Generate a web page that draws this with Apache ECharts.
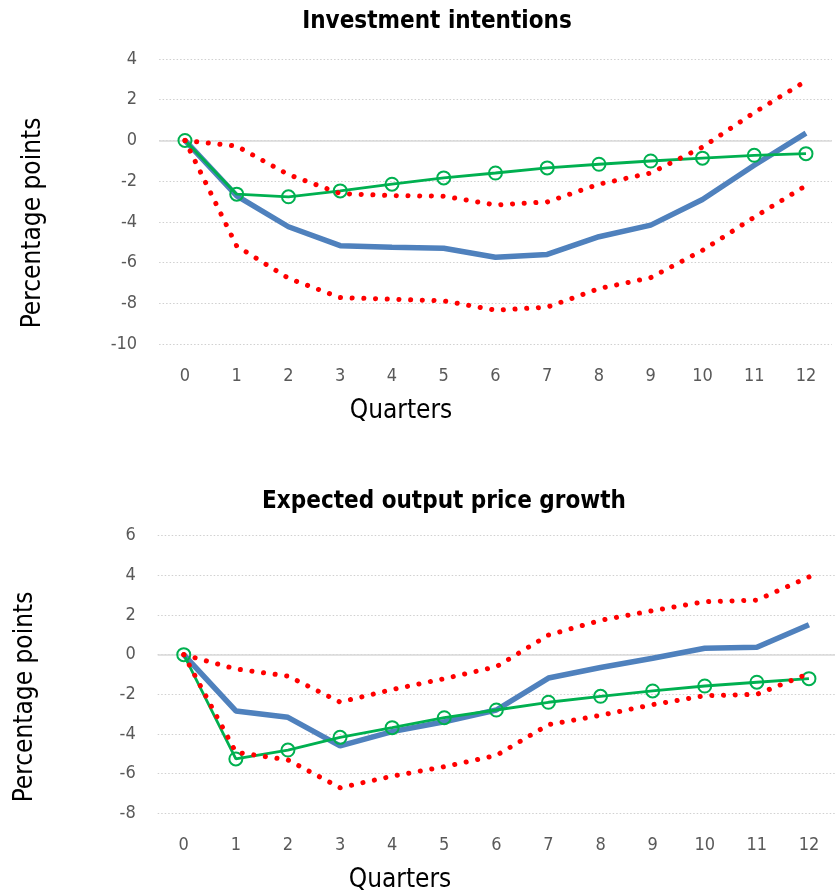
<!DOCTYPE html>
<html>
<head>
<meta charset="utf-8">
<script src="https://cdn.jsdelivr.net/npm/echarts@6/dist/echarts.min.js"></script>
<style>
  html, body { margin: 0; padding: 0; background: #fff; }
  #chart { width: 835px; height: 894px; }
</style>
</head>
<body>
<div id="chart"></div>
<script>
// Quarters after the shock
const quarters = ['0','1','2','3','4','5','6','7','8','9','10','11','12'];

// Investment intentions (percentage points)
const invCentral = [0, -2.72, -4.24, -5.17, -5.25, -5.3, -5.74, -5.6, -4.73, -4.16, -2.9, -1.22, 0.36];
const invUpper   = [0, -0.28, -1.68, -2.61, -2.71, -2.74, -3.17, -3.02, -2.15, -1.6, -0.33, 1.37, 2.92];
const invLower   = [0, -5.19, -6.77, -7.72, -7.8, -7.88, -8.34, -8.19, -7.28, -6.74, -5.4, -3.77, -2.22];
const invAlt     = [0, -2.64, -2.77, -2.48, -2.15, -1.84, -1.6, -1.35, -1.17, -1.01, -0.87, -0.73, -0.65];

// Expected output price growth (percentage points)
const priceCentral = [0, -2.84, -3.16, -4.6, -3.88, -3.38, -2.79, -1.18, -0.65, -0.18, 0.32, 0.37, 1.51];
const priceUpper   = [0, -0.72, -1.08, -2.39, -1.76, -1.21, -0.61, 0.99, 1.73, 2.22, 2.67, 2.75, 3.92];
const priceLower   = [0, -4.92, -5.31, -6.71, -6.13, -5.65, -5.08, -3.53, -3.06, -2.52, -2.07, -2.0, -0.95];
const priceAlt     = [0, -5.26, -4.81, -4.17, -3.68, -3.18, -2.79, -2.4, -2.1, -1.83, -1.58, -1.39, -1.21];

const FONT = '"DejaVu Sans Condensed", "Open Sans", sans-serif';
const BLUE = '#4f81bd';
const GREEN = '#00b050';
const RED = '#ff0000';

function xAxisFor(idx) {
  return {
    type: 'category', gridIndex: idx, data: quarters, boundaryGap: true,
    axisLine: { show: false }, axisTick: { show: false },
    axisLabel: { color: '#595959', fontFamily: FONT, fontSize: 18, margin: 23 },
    splitLine: { show: false }
  };
}
function yAxisFor(idx, min, max) {
  return {
    type: 'value', gridIndex: idx, min: min, max: max, interval: 2,
    axisLine: { show: false }, axisTick: { show: false },
    axisLabel: { color: '#595959', fontFamily: FONT, fontSize: 18, margin: 22 },
    splitLine: { show: true, lineStyle: { color: '#d0d0d0', type: [1.5, 2], width: 1.2 } }
  };
}
function centralSeries(idx, data) {
  return {
    type: 'line', xAxisIndex: idx, yAxisIndex: idx, data: data, symbol: 'none',
    lineStyle: { color: BLUE, width: 5.5 }, z: 2,
    markLine: {
      silent: true, symbol: 'none', label: { show: false },
      lineStyle: { color: '#d9d9d9', type: 'solid', width: 1.5 },
      data: [{ yAxis: 0 }], z: 1
    }
  };
}
function altSeries(idx, data) {
  return {
    type: 'line', xAxisIndex: idx, yAxisIndex: idx, data: data,
    symbol: 'circle', symbolSize: 13,
    itemStyle: { color: 'rgba(255,255,255,0)', borderColor: GREEN, borderWidth: 2 },
    lineStyle: { color: GREEN, width: 2.8 }, z: 3
  };
}
function bandSeries(idx, data) {
  return {
    type: 'line', xAxisIndex: idx, yAxisIndex: idx, data: data, symbol: 'none',
    lineStyle: { color: RED, width: 5, type: [0.1, 11.6], cap: 'round' }, z: 4
  };
}

function label(text, x, y, font, rotated) {
  return {
    type: 'text', x: x, y: y, rotation: rotated ? Math.PI / 2 : 0,
    style: { text: text, textAlign: 'center', textVerticalAlign: 'middle', font: font + ' ' + FONT, fill: '#000' }
  };
}

const chart = echarts.init(document.getElementById('chart'), null, { renderer: 'canvas' });
chart.setOption({
  animation: false,
  backgroundColor: '#ffffff',
  grid: [
    { left: 159.1, top: 59, width: 672.75, height: 285 },
    { left: 157.7, top: 535.7, width: 684.3, height: 277.6 }
  ],
  xAxis: [xAxisFor(0), xAxisFor(1)],
  yAxis: [yAxisFor(0, -10, 4), yAxisFor(1, -8, 6)],
  series: [
    centralSeries(0, invCentral), altSeries(0, invAlt),
    bandSeries(0, invUpper), bandSeries(0, invLower),
    centralSeries(1, priceCentral), altSeries(1, priceAlt),
    bandSeries(1, priceUpper), bandSeries(1, priceLower)
  ],
  graphic: [
    label('Investment intentions', 437, 22, 'bold 24px'),
    label('Expected output price growth', 444, 502, 'bold 24px'),
    label('Percentage points', 33, 223, '26px', true),
    label('Percentage points', 25, 697, '26px', true),
    label('Quarters', 401, 411, '26px'),
    label('Quarters', 400, 880, '26px')
  ]
});
</script>
</body>
</html>
